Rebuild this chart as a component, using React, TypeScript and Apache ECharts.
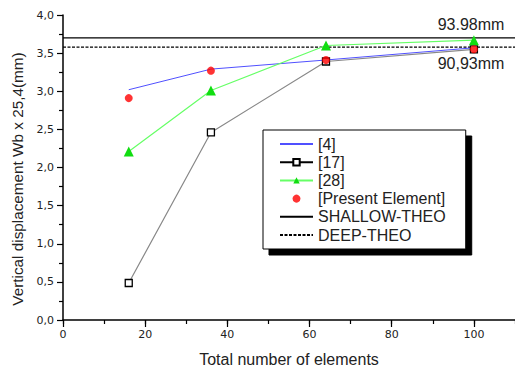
import React, { useEffect, useRef } from "react";
import * as echarts from "echarts";

const elements = [16, 36, 64, 100];
const ref4 = [3.02, 3.29, 3.41, 3.57];
const ref17 = [0.485, 2.46, 3.39, 3.55];
const ref28 = [2.21, 3.01, 3.6, 3.67];
const present = [2.91, 3.27, 3.41, 3.55];
const shallowTheo = 3.7;
const deepTheo = 3.58;
const theoRange = [0, 110];
const shallowLabel = "93.98mm";
const deepLabel = "90,93mm";

const pair = (ys: number[]) => elements.map((x, i) => [x, ys[i]]);
const flat = (y: number) => theoRange.map((x) => [x, y]);

const FONT = "Liberation Sans, Arial, sans-serif";
const TICKFONT = "DejaVu Sans, sans-serif";

export default function App() {
  const ref = useRef<HTMLDivElement>(null);
  useEffect(() => {
    if (!ref.current) return;
    const chart = echarts.init(ref.current, undefined, { renderer: "svg" });
    chart.setOption({
      animation: false,
      backgroundColor: "#fff",
      grid: { left: 63, right: 0, top: 15, bottom: 46 },
      xAxis: [
        {
          type: "value",
          min: 0,
          max: 110,
          interval: 20,
          name: "Total number of elements",
          nameLocation: "middle",
          nameGap: 31,
          nameTextStyle: { fontFamily: FONT, fontSize: 16, color: "#222" },
          axisLine: { show: true, lineStyle: { color: "#000", width: 1.5 } },
          axisTick: { show: true, length: 7, lineStyle: { color: "#000", width: 1.2 } },
          axisLabel: {
            margin: 9,
            fontFamily: TICKFONT,
            fontSize: 11,
            color: "#222",
            showMaxLabel: false,
          },
          splitLine: { show: false },
        },
        {
          type: "value",
          min: 0,
          max: 110,
          interval: 10,
          position: "bottom",
          axisLine: { show: false },
          axisTick: { show: true, length: 4, lineStyle: { color: "#000", width: 1.2 } },
          axisLabel: { show: false },
          splitLine: { show: false },
        },
      ],
      yAxis: {
        type: "value",
        min: 0,
        max: 4,
        interval: 0.5,
        axisLine: { show: true, lineStyle: { color: "#000", width: 1.5 } },
        axisTick: { show: true, length: 6, lineStyle: { color: "#000", width: 1.2 } },
        minorTick: { show: true, splitNumber: 2, length: 4, lineStyle: { color: "#000", width: 1.2 } },
        axisLabel: {
          margin: 9,
          fontFamily: TICKFONT,
          fontSize: 11,
          color: "#222",
          formatter: (v: number) => v.toFixed(1).replace(".", ","),
        },
        splitLine: { show: false },
      },
      legend: {
        orient: "vertical",
        left: 263,
        top: 130,
        padding: [6, 20, 6, 16],
        itemWidth: 33,
        itemHeight: 8,
        itemGap: 2.2,
        backgroundColor: "#fff",
        borderColor: "#000",
        borderWidth: 1,
        shadowColor: "#000",
        shadowBlur: 0,
        shadowOffsetX: 6,
        shadowOffsetY: 6,
        textStyle: { fontFamily: FONT, fontSize: 16, color: "#222", lineHeight: 16 },
        data: [
          { name: "[4]", itemStyle: { opacity: 0 } },
          { name: "[17]", lineStyle: { color: "#000" } },
          { name: "[28]" },
          { name: "[Present Element]" },
          { name: "SHALLOW-THEO", itemStyle: { opacity: 0 } },
          { name: "DEEP-THEO", itemStyle: { opacity: 0 } },
        ],
      },
      graphic: [
        {
          type: "text",
          x: 471,
          y: 24,
          style: {
            text: shallowLabel,
            fontFamily: FONT,
            fontSize: 16,
            fill: "#222",
            align: "center",
            verticalAlign: "middle",
          },
        },
        {
          type: "text",
          x: 471,
          y: 63,
          style: {
            text: deepLabel,
            fontFamily: FONT,
            fontSize: 16,
            fill: "#222",
            align: "center",
            verticalAlign: "middle",
          },
        },
        {
          type: "text",
          x: 17,
          y: 179,
          rotation: Math.PI / 2,
          style: {
            text: "Vertical displacement Wb x 25,4(mm)",
            fontFamily: FONT,
            fontSize: 15.3,
            fill: "#222",
            align: "center",
            verticalAlign: "middle",
          },
        },
      ],
      series: [
        {
          name: "SHALLOW-THEO",
          type: "line",
          data: flat(shallowTheo),
          symbol: "none",
          lineStyle: { color: "#000", width: 1.3 },
          itemStyle: { color: "#000" },
          z: 1,
        },
        {
          name: "DEEP-THEO",
          type: "line",
          data: flat(deepTheo),
          symbol: "none",
          lineStyle: { color: "#000", width: 1.3, type: [3, 1.5] },
          itemStyle: { color: "#000" },
          z: 1,
        },
        {
          name: "[4]",
          type: "line",
          data: pair(ref4),
          symbol: "none",
          lineStyle: { color: "#5050ff", width: 1 },
          itemStyle: { color: "#5050ff" },
          z: 2,
        },
        {
          name: "[17]",
          type: "line",
          data: pair(ref17),
          symbol: "rect",
          symbolSize: 7,
          lineStyle: { color: "#888", width: 1.2 },
          itemStyle: { color: "#fff", borderColor: "#000", borderWidth: 1.3 },
          z: 3,
        },
        {
          name: "[28]",
          type: "line",
          data: pair(ref28),
          symbol: "triangle",
          symbolSize: 10,
          lineStyle: { color: "#66ff66", width: 1.2 },
          itemStyle: { color: "#11dd11" },
          z: 4,
        },
        {
          name: "[Present Element]",
          type: "scatter",
          data: pair(present),
          symbol: "circle",
          symbolSize: 8,
          itemStyle: { color: "#ff0000" },
          z: 5,
        },
      ],
    });
    return () => chart.dispose();
  }, []);
  return <div ref={ref} style={{ width: 515, height: 372, position: "absolute", left: 0, top: 0 }} />;
}
